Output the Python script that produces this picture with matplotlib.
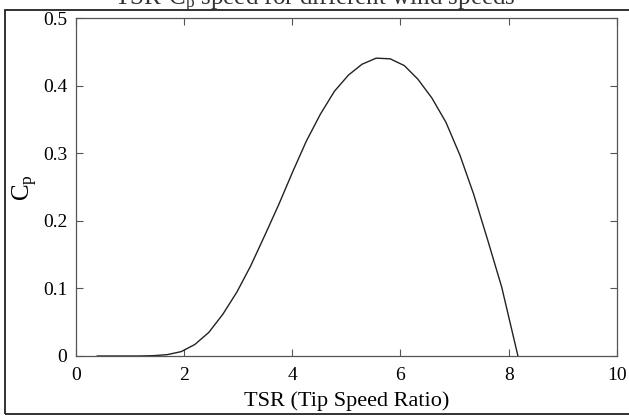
import matplotlib
matplotlib.use("Agg")
import matplotlib.pyplot as plt
from matplotlib.patches import Rectangle

plt.rcParams.update(
    {
        "font.family": ["Liberation Serif", "DejaVu Serif"],
        "mathtext.fontset": "custom",
        "mathtext.rm": "Liberation Serif",
        "mathtext.it": "Liberation Serif",
    }
)

# data
tsr = [0.40, 0.66, 0.92, 1.17, 1.43, 1.69, 1.95, 2.20, 2.46, 2.72, 2.98,
       3.23, 3.49, 3.75, 4.01, 4.26, 4.52, 4.78, 5.04, 5.29, 5.55, 5.81,
       6.07, 6.32, 6.58, 6.84, 7.10, 7.35, 7.61, 7.87, 8.17]
cp = [0.0, 0.0, 0.0, 0.0, 0.0005, 0.002, 0.0065, 0.017, 0.035, 0.062, 0.095,
      0.133, 0.178, 0.224, 0.273, 0.318, 0.358, 0.392, 0.416, 0.432, 0.441, 0.440,
      0.430, 0.410, 0.382, 0.346, 0.297, 0.240, 0.172, 0.102, 0.0]
x_ticks = [0, 2, 4, 6, 8, 10]
y_ticks = [0, 0.1, 0.2, 0.3, 0.4, 0.5]
y_tick_labels = ["0", "0.1", "0.2", "0.3", "0.4", "0.5"]

W, H = 629, 417
fig = plt.figure(figsize=(W / 100, H / 100), dpi=100)
ax = fig.add_axes([75.7 / W, 1 - 356 / H, (617 - 75.7) / W, (356 - 18.3) / H])

ax.plot(tsr, cp, color="#222222", linewidth=1.0)
ax.set_xlim(0, 10)
ax.set_ylim(0, 0.5)
ax.set_xticks(x_ticks)
ax.set_yticks(y_ticks)
ax.set_yticklabels(y_tick_labels)
ax.tick_params(direction="in", length=5, width=0.8, color="#555555",
               top=True, right=True, labelsize=14)
ax.tick_params(axis="x", pad=8)
ax.tick_params(axis="y", pad=6)
for s in ax.spines.values():
    s.set_color("#555555")
    s.set_linewidth(0.9)

ax.set_xlabel("TSR (Tip Speed Ratio)", fontsize=16, labelpad=5)
ax.set_ylabel(r"C$_\mathrm{p}$", fontsize=18, labelpad=2)

# title clipped at the top edge, as in the scan, and the outer frame
fig.text(315 / W, 1 - 5 / H, r"TSR-C$_\mathrm{p}$ speed for different wind speeds",
         ha="center", va="baseline", fontsize=18, color="#333333")
fig.patches.append(Rectangle((5 / W, 1 - 414 / H), 1.2, (414 - 10.3) / H,
                             transform=fig.transFigure, fill=False,
                             edgecolor="#222222", linewidth=1.3))

fig.savefig("out.png", dpi=100)
